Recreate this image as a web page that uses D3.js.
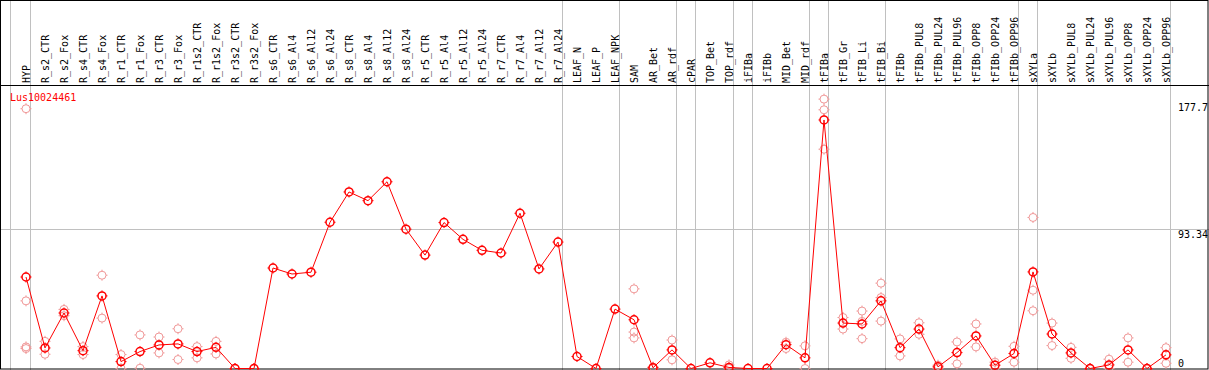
<!DOCTYPE html>
<html>
<head>
<meta charset="utf-8">
<script src="https://cdn.jsdelivr.net/npm/d3@7"></script>
<style>
  body { margin: 0; background: #fff; }
  text { font-family: 'DejaVu Sans Mono', monospace; font-size: 10px; }
</style>
</head>
<body>
<div class="chart"></div>
<script>
const samples = ['HYP', 'R_s2_CTR', 'R_s2_Fox', 'R_s4_CTR', 'R_s4_Fox', 'R_r1_CTR', 'R_r1_Fox', 'R_r3_CTR', 'R_r3_Fox',
  'R_r1s2_CTR', 'R_r1s2_Fox', 'R_r3s2_CTR', 'R_r3s2_Fox', 'R_s6_CTR', 'R_s6_Al4', 'R_s6_Al12', 'R_s6_Al24',
  'R_s8_CTR', 'R_s8_Al4', 'R_s8_Al12', 'R_s8_Al24', 'R_r5_CTR', 'R_r5_Al4', 'R_r5_Al12', 'R_r5_Al24',
  'R_r7_CTR', 'R_r7_Al4', 'R_r7_Al12', 'R_r7_Al24', 'LEAF_N', 'LEAF_P', 'LEAF_NPK', 'SAM', 'AR_Bet', 'AR_rdf',
  'cPAR', 'TOP_Bet', 'TOP_rdf', 'iFIBa', 'iFIBb', 'MID_Bet', 'MID_rdf', 'tFIBa', 'tFIB_Gr', 'tFIB_Li', 'tFIB_Bi',
  'tFIBb', 'tFIBb_PUL8', 'tFIBb_PUL24', 'tFIBb_PUL96', 'tFIBb_OPP8', 'tFIBb_OPP24', 'tFIBb_OPP96',
  'sXYLa', 'sXYLb', 'sXYLb_PUL8', 'sXYLb_PUL24', 'sXYLb_PUL96', 'sXYLb_OPP8', 'sXYLb_OPP24', 'sXYLb_OPP96']

const means = [61.0, 13.7, 37.0, 11.9, 48.4, 4.6, 11.3, 15.7, 16.4, 11.3, 14.1, 0, 0, 67.0, 63.0, 64.2, 97.5,
  117.7, 111.9, 124.5, 92.9, 75.6, 97.3, 86.1, 78.8, 77.0, 103.5, 66.4, 84.3, 8.0, 0, 39.6, 32.5, 0.5, 12.4,
  0, 3.8, 0.7, 0, 0, 15.9, 7.1, 165.7, 30.3, 29.7, 45.1, 13.9, 26.3, 1.1, 10.6, 21.7, 2.2, 10.0,
  64.4, 23.0, 10.4, 0, 2.4, 12.4, 0, 9.1]

const replicates = [[173.2, 45.1, 14.4, 13.3], [18.1, 9.5], [39.4, 35.2], [14.6, 9.3], [62.2, 33.6], [9.3, 0],
  [22.4, 0.2], [21.0, 10.4], [26.5, 6.0], [14.6, 7.1], [18.1, 9.7], [0, 0], [0, 0], [], [], [], [],
  [], [], [], [], [], [], [], [], [], [], [], [], [], [], [], [53.1, 24.3, 20.4], [1, 0], [19.0, 5.8],
  [], [], [2.4, 0], [], [], [17.5, 13.3], [15.1, 0], [179.6, 172.5, 146.2], [34.0, 26.3], [38.3, 31.4, 19.9],
  [56.9, 47.3, 31.6], [19.7, 8.4], [30.5, 22.8], [2.2, 0], [17.7, 3.1], [29.7, 14.4], [4.2, 0], [14.8, 4.2],
  [100.7, 52.2, 38.5], [30.3, 15.3], [14.1, 6.8], [0, 0], [6.2, 0], [20.4, 4.2], [0, 0], [13.9, 3.5]]

// group separators: a gray line is drawn after these sample indices (-1 = before first)
const groupEnds = [-1, 0, 28, 31, 34, 35, 37, 38, 41, 42, 45, 52, 53, 60]
const yTicks = [0, 93.34, 177.7]
const gridValues = [93.34]
const geneName = 'Lus10024461'

const W = 1209
const H = 370

const svg = d3.select('.chart').append('svg').attr('width', W).attr('height', H)

const x = d3.scalePoint().domain(samples).range([26, 1166])
const y = d3.scaleLinear().domain([0, 93.34]).range([368.5, 228.5])

const sepX = i => (i < 0 ? x(samples[0]) - 15.5 : x(samples[i]) + 4.5)

// gray grid
svg.selectAll('.sep').data(groupEnds).join('line')
  .attr('x1', sepX).attr('x2', sepX).attr('y1', 0).attr('y2', H)
  .attr('stroke', '#c0c0c0').attr('stroke-width', 1)

svg.selectAll('.hgrid').data(gridValues).join('line')
  .attr('x1', 0).attr('x2', W)
  .attr('y1', d => Math.round(y(d)) + 0.5).attr('y2', d => Math.round(y(d)) + 0.5)
  .attr('stroke', '#c0c0c0').attr('stroke-width', 1)

// frame + header separator
svg.append('rect').attr('x', 0.5).attr('y', 0.5).attr('width', W - 1.5).attr('height', H - 1.5)
  .attr('fill', 'none').attr('stroke', '#000')
svg.append('line').attr('x1', 0).attr('x2', W).attr('y1', 85.5).attr('y2', 85.5).attr('stroke', '#000')

// sample labels, rotated
svg.append('g').selectAll('text').data(samples).join('text')
  .attr('transform', d => `translate(${x(d) + 3.5}, 83) rotate(-90)`)
  .attr('text-anchor', 'start')
  .text(d => d)

svg.append('text').attr('x', 10).attr('y', 101).attr('fill', '#f00').text(geneName)

// right axis labels
const yAxis = d3.axisRight(y).tickValues(yTicks).tickSize(0).tickPadding(0)
  .tickFormat(d => String(d))
const ax = svg.append('g').attr('transform', 'translate(1178,0)').call(yAxis)
ax.select('.domain').remove()
ax.selectAll('text')
  .attr('font-family', "'DejaVu Sans Mono', monospace").attr('font-size', 10).attr('fill', '#000')
  .attr('dy', null)
  .attr('y', d => Math.min(8.5, 366 - y(d)))

// marker: small circle with 4 short ticks
function marker(g, color, sw) {
  g.append('circle').attr('r', 4).attr('fill', 'none').attr('stroke', color).attr('stroke-width', sw)
  g.append('path').attr('d', 'M0,-5.5V-4M0,4V5.5M-5.5,0H-4M4,0H5.5')
    .attr('stroke', color).attr('stroke-width', 1)
}

const reps = []
replicates.forEach((r, i) => r.forEach(v => reps.push({ s: samples[i], v })))

svg.append('g').selectAll('g').data(reps).join('g')
  .attr('transform', d => `translate(${x(d.s)}, ${y(d.v)})`)
  .each(function () { marker(d3.select(this), '#f09898', 1) })

const line = d3.line().x((d, i) => x(samples[i])).y(d => y(d))
svg.append('path').datum(means).attr('d', line)
  .attr('fill', 'none').attr('stroke', '#f00').attr('stroke-width', 1)

svg.append('g').selectAll('g').data(means).join('g')
  .attr('transform', (d, i) => `translate(${x(samples[i])}, ${y(d)})`)
  .each(function () { marker(d3.select(this), '#f00', 1.5) })
</script>
</body>
</html>
